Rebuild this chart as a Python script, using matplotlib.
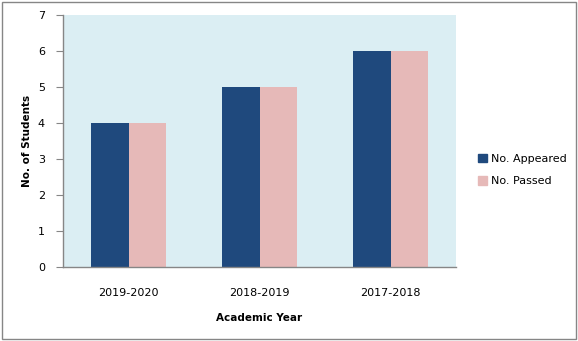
import matplotlib
matplotlib.use("Agg")
import matplotlib.pyplot as plt
from matplotlib.patches import Patch, Rectangle
import numpy as np

years = ["2019-2020", "2018-2019", "2017-2018"]
appeared = [4, 5, 6]
passed = [4, 5, 6]
series_names = ["No. Appeared", "No. Passed"]

blue = "#1F497D"
pink = "#E6B9B8"
bg = "#DBEEF3"
gray = "#868686"

fig = plt.figure(figsize=(5.78, 3.41), dpi=100)
fig.patch.set_facecolor("white")
fig.patches.append(Rectangle((2/578, 2/341), 1 - 4/578, 1 - 4/341, transform=fig.transFigure,
                             fill=False, edgecolor=gray, linewidth=1.0))

ax = fig.add_axes([63/578, 1 - 267/341, (456-63)/578, (267-15)/341])
ax.set_facecolor(bg)
x = np.arange(len(years))
w = 0.29
ax.bar(x - w/2, appeared, width=w, color=blue, label=series_names[0])
ax.bar(x + w/2, passed, width=w, color=pink, label=series_names[1])
ax.set_xlim(-0.5, len(years) - 0.5)
ax.set_ylim(0, 7)
ax.set_yticks(range(0, 8))
ax.set_xticks(x)
ax.set_xticklabels(years)
for s in ["top", "right"]:
    ax.spines[s].set_visible(False)
for s in ["left", "bottom"]:
    ax.spines[s].set_color(gray)
    ax.spines[s].set_linewidth(1.0)
ax.tick_params(axis="y", length=5, color=gray, labelsize=8, pad=8)
ax.tick_params(axis="x", length=0, labelsize=8, pad=15)
ax.set_xlabel("Academic Year", fontsize=7.5, fontweight="bold", labelpad=11)
ax.set_ylabel("No. of Students", fontsize=7.5, fontweight="bold", labelpad=4)

handles = [Patch(color=blue), Patch(color=pink)]
fig.legend(handles, series_names, loc="center left", bbox_to_anchor=(468/578, 1 - 170/341),
           frameon=False, fontsize=8, handlelength=0.8, handleheight=0.8, handletextpad=0.35,
           labelspacing=1.1)

fig.savefig("out.png", dpi=100)
